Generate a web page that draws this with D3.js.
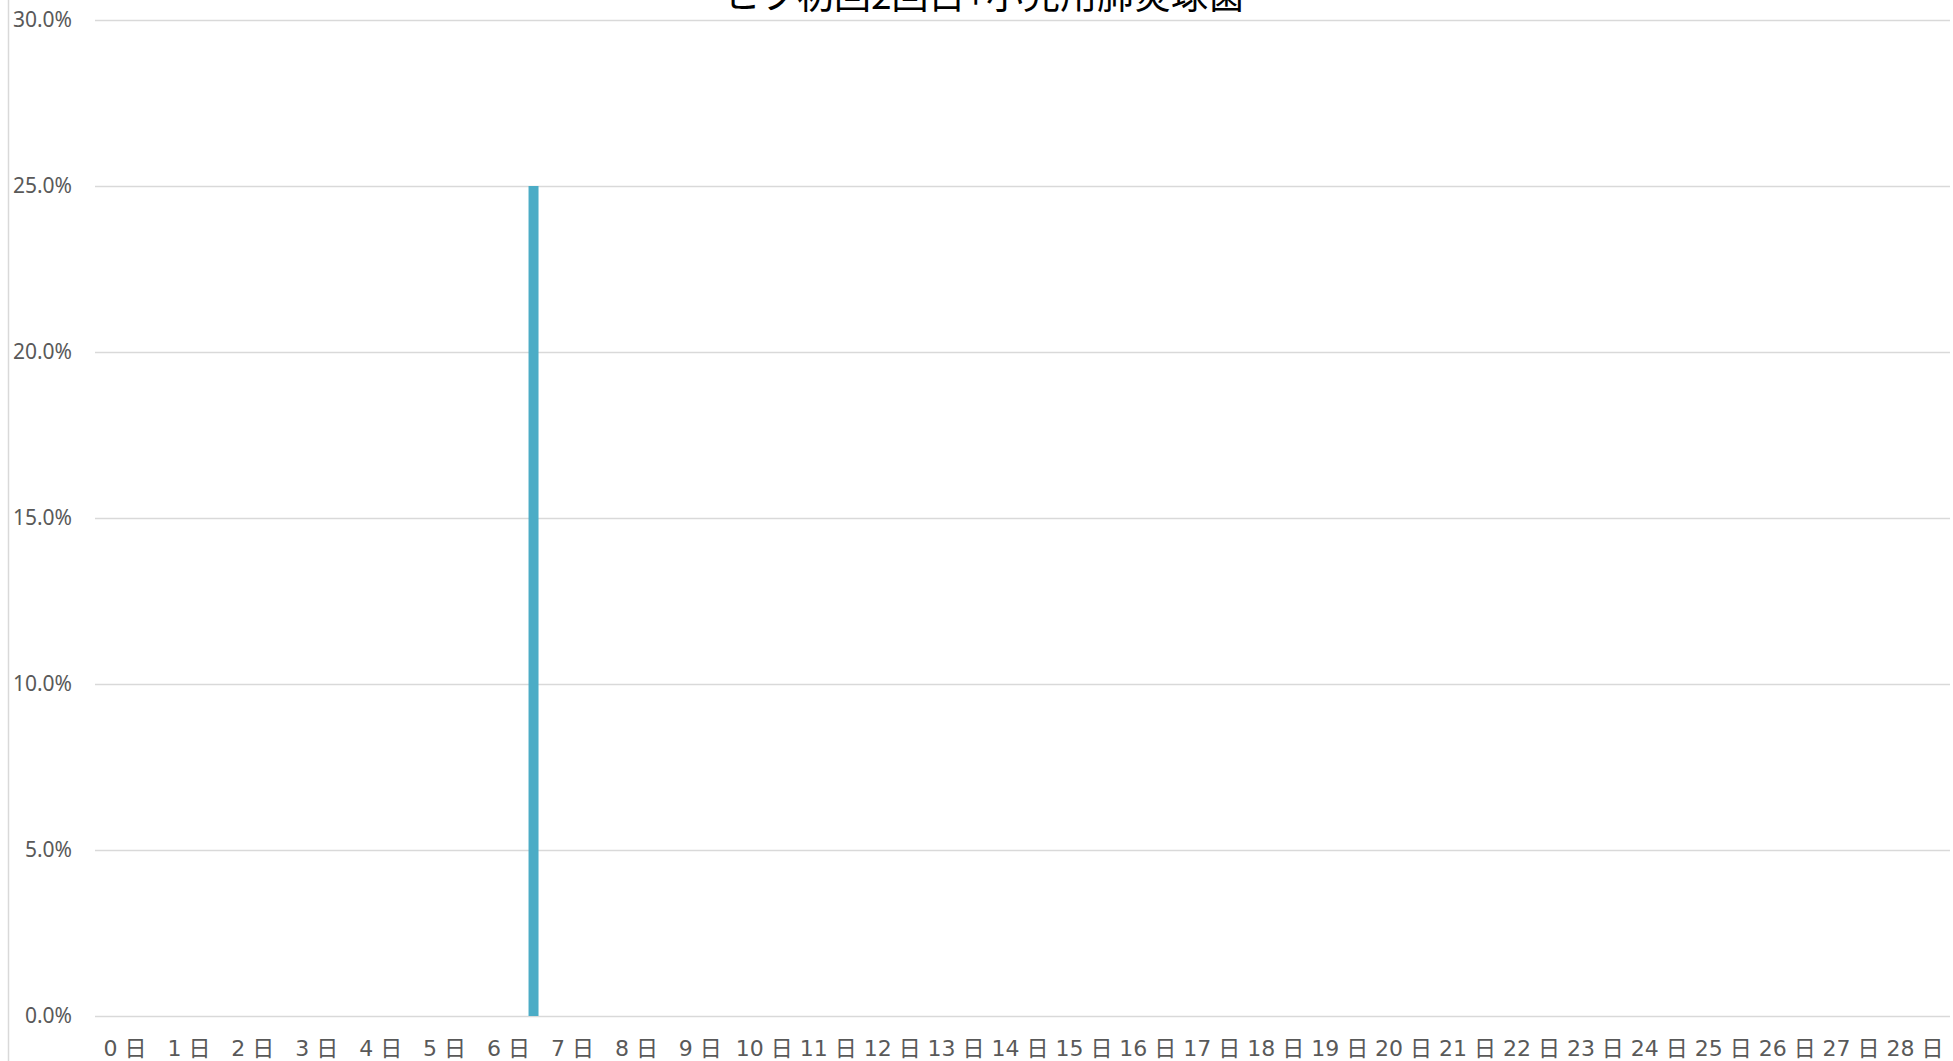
<!DOCTYPE html>
<html>
<head>
<meta charset="utf-8">
<script src="https://cdn.jsdelivr.net/npm/d3@7"></script>
<style>
  html, body { margin: 0; padding: 0; background: #fff; }
  svg { display: block; }
</style>
</head>
<body>
<script>
// ---- data ----
const title = "ヒブ初回2回目+小児用肺炎球菌";
const categories = ["0","1","2","3","4","5","6","7","8","9","10","11","12","13","14","15","16","17","18","19","20","21","22","23","24","25","26","27","28"];
const seriesNames = ["系列1","系列2","系列3","系列4","系列5","系列6"];
const series1 = [0,0,0,0,0,0,0,0,0,0,0,0,0,0,0,0,0,0,0,0,0,0,0,0,0,0,0,0,0];
const series2 = [0,0,0,0,0,0,0,0,0,0,0,0,0,0,0,0,0,0,0,0,0,0,0,0,0,0,0,0,0];
const series3 = [0,0,0,0,0,0,0,0,0,0,0,0,0,0,0,0,0,0,0,0,0,0,0,0,0,0,0,0,0];
const series4 = [0,0,0,0,0,0,0,0,0,0,0,0,0,0,0,0,0,0,0,0,0,0,0,0,0,0,0,0,0];
const series5 = [0,0,0,0,0,0,0,0,0,0,0,0,0,0,0,0,0,0,0,0,0,0,0,0,0,0,0,0,0];
const series6 = [0,0,0,0,0,0,0.25,0,0,0,0,0,0,0,0,0,0,0,0,0,0,0,0,0,0,0,0,0,0];
const seriesValues = [series1, series2, series3, series4, series5, series6];
const yTicks = [0, 0.05, 0.10, 0.15, 0.20, 0.25, 0.30];

// ---- layout ----
const W = 1953, H = 1061;
const plot = { left: 93, right: 1947, top: 20, bottom: 1016 };
const grid = { x1: 95, x2: 1950 };

const svg = d3.select("body").append("svg")
  .attr("width", W).attr("height", H)
  .style("background", "#fff");

const x = d3.scaleBand().domain(categories).range([plot.left, plot.right]).padding(0);
const xs = d3.scaleBand().domain(seriesNames).range([0, x.bandwidth()]).paddingInner(0).paddingOuter(0.2);
const y = d3.scaleLinear().domain([0, 0.30]).range([plot.bottom, plot.top]);

// outer left border line
svg.append("line")
  .attr("x1", 8.5).attr("x2", 8.5).attr("y1", 0).attr("y2", H)
  .attr("stroke", "#d9d9d9").attr("stroke-width", 1.5);

// gridlines + y labels
const yAxis = d3.axisLeft(y).tickValues(yTicks)
  .tickSize(0)
  .tickPadding(21)
  .tickFormat(d3.format(".1%"));
const gy = svg.append("g").attr("transform", `translate(${plot.left},0)`).call(yAxis);
gy.select(".domain").remove();
gy.selectAll(".tick").append("line")
  .attr("x1", grid.x1 - plot.left).attr("x2", grid.x2 - plot.left)
  .attr("y1", 0).attr("y2", 0)
  .attr("stroke", "#d9d9d9").attr("stroke-width", 1.5);
gy.selectAll(".tick text")
  .attr("fill", "#595959")
  .style("font-family", "'Noto Sans', 'DejaVu Sans', sans-serif")
  .style("font-size", "21px");

// bars
const gBars = svg.append("g");
seriesValues.forEach((vals, si) => {
  gBars.selectAll(null)
    .data(vals.map((v, i) => ({ v, c: categories[i] })).filter(d => d.v > 0))
    .enter().append("rect")
    .attr("x", d => x(d.c) + xs(seriesNames[si]))
    .attr("width", xs.bandwidth())
    .attr("y", d => y(d.v))
    .attr("height", d => y(0) - y(d.v))
    .attr("fill", "#4bacc6");
});

// x axis labels
const xAxis = d3.axisBottom(x).tickSize(0).tickPadding(24).tickFormat(d => d + " 日");
const gx = svg.append("g").attr("transform", `translate(0,${plot.bottom})`).call(xAxis);
gx.select(".domain").remove();
gx.selectAll(".tick text")
  .attr("fill", "#595959")
  .style("font-family", "'DejaVu Sans', 'Noto Sans CJK JP', sans-serif")
  .style("font-size", "22px");

// title
svg.append("text")
  .attr("x", 984).attr("y", 9)
  .attr("text-anchor", "middle")
  .attr("fill", "#000")
  .style("font-family", "'Noto Sans CJK JP', sans-serif")
  .style("font-size", "37px")
  .text(title);
</script>
</body>
</html>
